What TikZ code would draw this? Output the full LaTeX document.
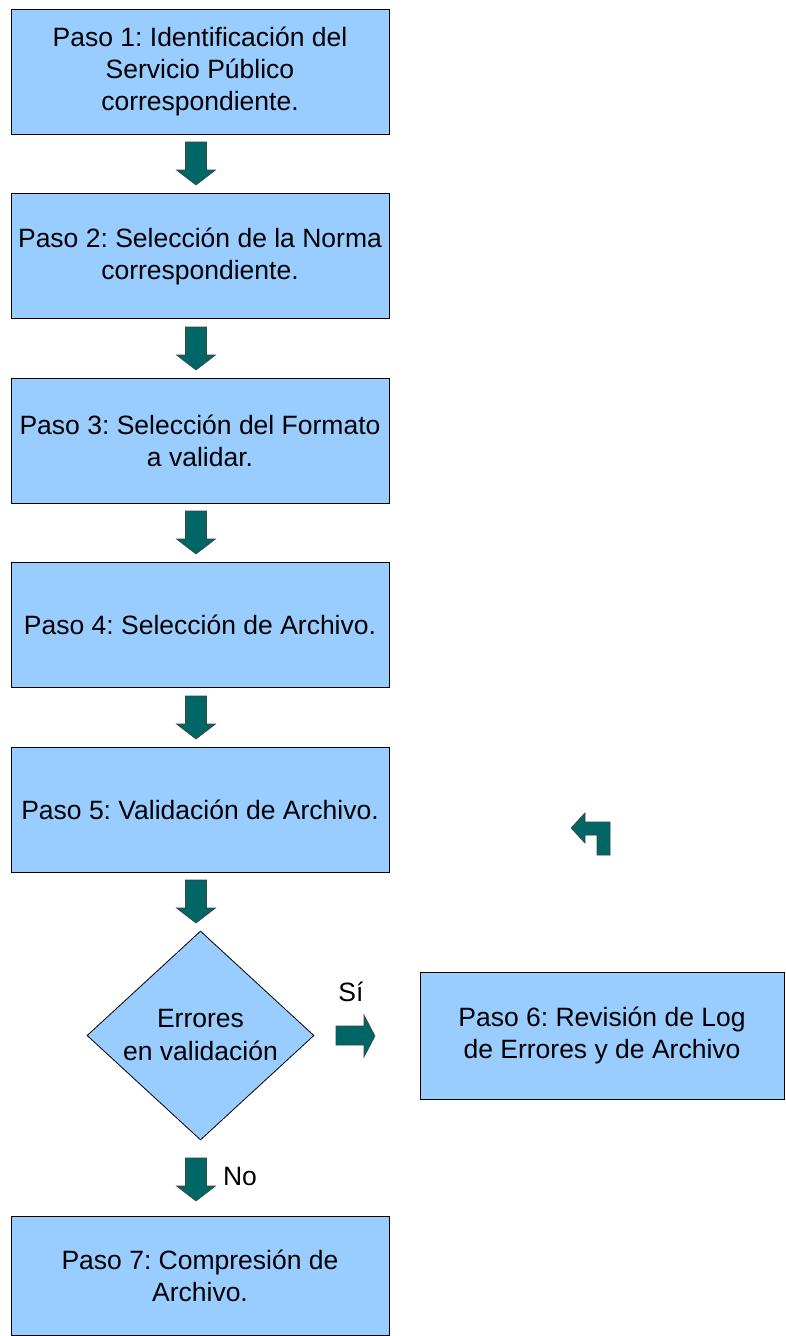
\documentclass[tikz,border=0pt]{standalone}
\usepackage{fontspec}
\setmainfont{Liberation Sans}
\usetikzlibrary{shapes.geometric}
\definecolor{boxblue}{RGB}{153,204,255}
\definecolor{teal}{RGB}{0,102,102}
\tikzset{
  stepbox/.style={draw=black, line width=0.8pt, fill=boxblue, minimum width=378pt, minimum height=125pt, inner sep=0pt, align=center, font=\fontsize{26.5}{32}\selectfont\frenchspacing},
  decbox/.style={draw=black, line width=0.8pt, fill=boxblue, diamond, minimum width=227pt, minimum height=209pt, inner sep=0pt},
  lbl/.style={inner sep=0pt, align=center, font=\fontsize{26.5}{33}\selectfont\frenchspacing},
  blockarrow/.style={fill=teal, draw=black!75, line width=0.6pt, line join=miter},
  pics/downblk/.style={code={
    \path[blockarrow] (-10.5,0) -- (10.5,0) -- (10.5,28) -- (19.5,28) -- (0,43) -- (-19.5,28) -- (-10.5,28) -- cycle;}},
}
\begin{document}
\begin{tikzpicture}[x=1pt,y=-1pt]
\useasboundingbox (0,0) rectangle (785,1336);
\node[stepbox] (p1) at (200,71.5) {Paso 1: Identificación del\\Servicio Público\\correspondiente.};
\node[stepbox] (p2) at (200,256) {Paso 2: Selección de la Norma\\correspondiente.};
\node[stepbox] (p3) at (200,440.5) {Paso 3: Selección del Formato\\a validar.};
\node[stepbox] (p4) at (200,625) {Paso 4: Selección de Archivo.};
\node[stepbox] (p5) at (200,809.5) {Paso 5: Validación de Archivo.};
\node[decbox] (d) at (200.5,1035.5) {};
\node[lbl] (dt) at (d.center) {Errores\\en validación};
\node[stepbox, minimum width=364pt, minimum height=127pt] (p6) at (602,1035.5) {Paso 6: Revisión de Log\\de Errores y de Archivo};
\node[stepbox, minimum height=119pt] (p7) at (200,1275.5) {Paso 7: Compresión de\\Archivo.};
% block arrows
\pic at (196,142) {downblk};
\pic at (196,327) {downblk};
\pic at (196,511) {downblk};
\pic at (196,696) {downblk};
\pic at (196,880) {downblk};
\pic at (196,1158) {downblk};
% right arrow
\path[blockarrow] (336,1026) -- (364,1026) -- (364,1015) -- (375,1036) -- (364,1057) -- (364,1045) -- (336,1045) -- cycle;
% bent arrow
\path[blockarrow] (571,828) -- (585,813) -- (585,822) -- (610,822) -- (610,855) -- (597,855) -- (597,835) -- (585,835) -- (585,843) -- cycle;
\node[lbl] (si) at (351,992) {Sí};
\node[lbl] (no) at (240,1176) {No};
\end{tikzpicture}
\end{document}
